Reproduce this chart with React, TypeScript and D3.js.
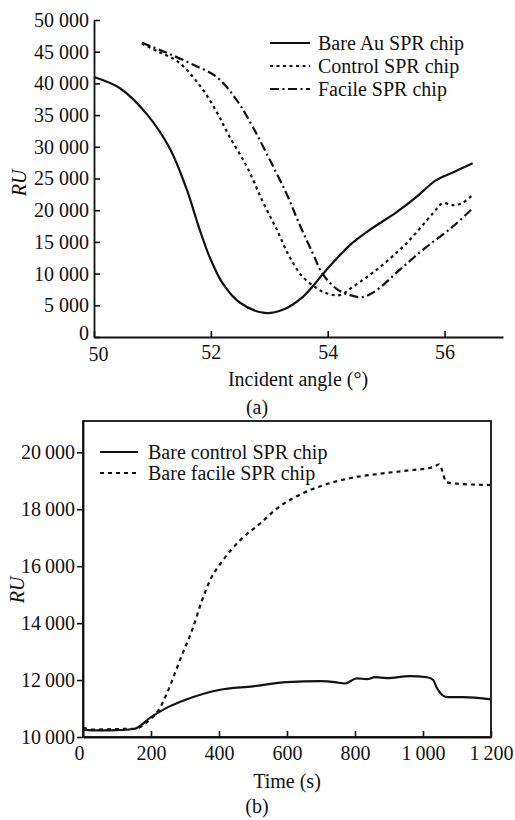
import React, { useEffect, useRef } from 'react';
import * as d3 from 'd3';

// (a) RU vs incident angle
const bareAuAngle = [50, 50.45, 50.9, 51.3, 51.59, 51.81, 51.98, 52.2, 52.5, 52.92, 53.23, 53.57, 53.98, 54.38, 54.72, 55.18, 55.52, 55.85, 56.15, 56.48];
const bareAuRU = [41000, 39200, 35200, 29700, 23200, 16900, 12600, 8500, 5400, 3800, 4300, 6300, 10600, 14500, 16900, 19700, 22100, 24700, 26000, 27400];

const controlAngle = [50.82, 51.1, 51.44, 51.81, 52.1, 52.32, 52.62, 52.88, 53.13, 53.35, 53.57, 53.81, 53.98, 54.2, 54.43, 54.89, 55.35, 55.8, 55.97, 56.14, 56.3, 56.48];
const controlRU = [46300, 45000, 43400, 39700, 35500, 31600, 26800, 21500, 16900, 12600, 9500, 7700, 6900, 6600, 7900, 11000, 14800, 19500, 21100, 20800, 21100, 22400];

const facileAngle = [50.82, 51.2, 51.64, 52.1, 52.44, 52.72, 53.0, 53.3, 53.52, 53.74, 53.91, 54.15, 54.38, 54.6, 54.84, 55.23, 55.69, 56.14, 56.48];
const facileRU = [46400, 45000, 43200, 41000, 37400, 33100, 28100, 22500, 17700, 13300, 10000, 7600, 6600, 6300, 7400, 10600, 14200, 17400, 20300];

const angleTicks = [50, 52, 54, 56];
const ruTicksA = [0, 5000, 10000, 15000, 20000, 25000, 30000, 35000, 40000, 45000, 50000];
const legendA = ['Bare Au SPR chip', 'Control SPR chip', 'Facile SPR chip'];

// (b) RU vs time
const controlTime = [0, 50, 100, 150, 200, 250, 300, 400, 500, 600, 700, 740, 771, 805, 835, 859, 894, 962, 1012, 1030, 1041, 1071, 1118, 1200];
const controlTimeRU = [10250, 10230, 10240, 10280, 10700, 11050, 11300, 11650, 11780, 11930, 11960, 11930, 11880, 12060, 12030, 12100, 12070, 12140, 12100, 12000, 11720, 11400, 11400, 11320];

const facileTime = [0, 30, 100, 150, 200, 220, 247, 285, 324, 350, 374, 412, 462, 521, 571, 618, 706, 785, 882, 962, 1030, 1048, 1058, 1068, 1100, 1200];
const facileTimeRU = [10320, 10260, 10280, 10290, 10650, 10900, 11540, 12700, 13860, 14800, 15510, 16210, 16910, 17500, 18030, 18390, 18840, 19090, 19260, 19370, 19480, 19580, 19300, 18950, 18900, 18850];

const timeTicks = [0, 200, 400, 600, 800, 1000, 1200];
const ruTicksB = [10000, 12000, 14000, 16000, 18000, 20000];
const legendB = ['Bare control SPR chip', 'Bare facile SPR chip'];

const FONT = 'Times New Roman, Liberation Serif, serif';
const solid = 'none';
const dotted = '3,3.5';
const dashDot = '9,3.5,2,3.5';
const dottedB = '4,4';

const App = () => {
    const svgRef = useRef<SVGSVGElement>(null);

    useEffect(() => {
        const svg = d3.select(svgRef.current);
        svg.selectAll('*').remove();

        const fmtSpace = (d: number) => d3.format(',')(d).replace(',', ' ');
        const fmtThin = (d: number) => d3.format(',')(d).replace(',', '\u2009');

        const styleAxis = (g: any) => {
            g.attr('font-size', 20).attr('font-family', FONT);
            g.selectAll('path').attr('stroke', '#111').attr('stroke-width', 1.8);
            g.selectAll('line').attr('stroke', '#111').attr('stroke-width', 1.6);
            g.selectAll('text').attr('fill', '#111');
        };

        // ---------- chart (a) ----------
        const xa = d3.scaleLinear().domain([50, 57]).range([94, 503]);
        const ya = d3.scaleLinear().domain([0, 50000]).range([337, 20]);

        const xAxisA = svg.append('g')
            .attr('transform', 'translate(0,337)')
            .call(d3.axisBottom(xa).tickValues(angleTicks).tickSizeInner(-6).tickSizeOuter(0).tickPadding(8).tickFormat(d3.format('d')))
            .call(styleAxis);
        // the "50" sits a little right of the corner, clear of the "0"
        xAxisA.selectAll('text').filter((d: any) => d === 50).attr('dx', 4).attr('y', 10);

        const yAxisA = svg.append('g')
            .attr('transform', 'translate(94,0)')
            .call(d3.axisLeft(ya).tickValues(ruTicksA).tickSizeInner(-6).tickSizeOuter(0).tickPadding(5).tickFormat((d: any) => fmtSpace(d)))
            .call(styleAxis);
        yAxisA.selectAll('text').filter((d: any) => d === 0).attr('dy', '0.1em');

        const lineA = (xs: number[], ys: number[]) =>
            d3.line<number>().x((_, i) => xa(xs[i])).y((d) => ya(d)).curve(d3.curveCatmullRom.alpha(0.5))(ys);

        const seriesA = [
            {x: bareAuAngle, y: bareAuRU, dash: solid},
            {x: controlAngle, y: controlRU, dash: dotted},
            {x: facileAngle, y: facileRU, dash: dashDot},
        ];
        seriesA.forEach((s) => {
            svg.append('path')
                .attr('d', lineA(s.x, s.y))
                .attr('fill', 'none')
                .attr('stroke', '#111')
                .attr('stroke-width', 2.2)
                .attr('stroke-dasharray', s.dash);
        });

        // legend (a)
        legendA.forEach((label, i) => {
            const y = 43 + i * 23;
            svg.append('line')
                .attr('x1', 270).attr('x2', 310).attr('y1', y).attr('y2', y)
                .attr('stroke', '#111').attr('stroke-width', 2.2)
                .attr('stroke-dasharray', seriesA[i].dash);
            svg.append('text')
                .attr('x', 318).attr('y', y + 7)
                .attr('font-family', FONT).attr('font-size', 20).attr('fill', '#111')
                .text(label);
        });

        svg.append('text')
            .attr('x', 298).attr('y', 386)
            .attr('text-anchor', 'middle')
            .attr('font-family', FONT).attr('font-size', 20).attr('fill', '#111')
            .text('Incident angle (°)');
        svg.append('text')
            .attr('transform', 'translate(26,183) rotate(-90)')
            .attr('text-anchor', 'middle')
            .attr('font-family', FONT).attr('font-size', 20).attr('font-style', 'italic').attr('fill', '#111')
            .text('RU');
        svg.append('text')
            .attr('x', 257).attr('y', 414)
            .attr('text-anchor', 'middle')
            .attr('font-family', FONT).attr('font-size', 20).attr('fill', '#111')
            .text('(a)');

        // ---------- chart (b) ----------
        const xb = d3.scaleLinear().domain([0, 1200]).range([83, 491]);
        const yb = d3.scaleLinear().domain([10000, 21100]).range([737, 421]);

        svg.append('rect')
            .attr('x', 83).attr('y', 421).attr('width', 408).attr('height', 316)
            .attr('fill', 'none').attr('stroke', '#111').attr('stroke-width', 1.8);

        const xAxisB = svg.append('g')
            .attr('transform', 'translate(0,737)')
            .call(d3.axisBottom(xb).tickValues(timeTicks).tickSizeInner(-6).tickSizeOuter(0).tickPadding(9).tickFormat((d: any) => fmtThin(d)))
            .call(styleAxis);
        xAxisB.selectAll('text').filter((d: any) => d === 0).attr('dx', -4);

        svg.append('g')
            .attr('transform', 'translate(83,0)')
            .call(d3.axisLeft(yb).tickValues(ruTicksB).tickSizeInner(6).tickSizeOuter(0).tickPadding(2).tickFormat((d: any) => fmtThin(d)))
            .call(styleAxis);

        const lineB = (xs: number[], ys: number[]) =>
            d3.line<number>().x((_, i) => xb(xs[i])).y((d) => yb(d)).curve(d3.curveMonotoneX)(ys);

        const seriesB = [
            {x: controlTime, y: controlTimeRU, dash: solid},
            {x: facileTime, y: facileTimeRU, dash: dottedB},
        ];
        seriesB.forEach((s) => {
            svg.append('path')
                .attr('d', lineB(s.x, s.y))
                .attr('fill', 'none')
                .attr('stroke', '#111')
                .attr('stroke-width', 2.2)
                .attr('stroke-dasharray', s.dash);
        });

        legendB.forEach((label, i) => {
            const y = 452 + i * 21;
            svg.append('line')
                .attr('x1', 100).attr('x2', 138).attr('y1', y).attr('y2', y)
                .attr('stroke', '#111').attr('stroke-width', 2.2)
                .attr('stroke-dasharray', seriesB[i].dash);
            svg.append('text')
                .attr('x', 148).attr('y', y + 7)
                .attr('font-family', FONT).attr('font-size', 20).attr('fill', '#111')
                .text(label);
        });

        svg.append('text')
            .attr('x', 287).attr('y', 788)
            .attr('text-anchor', 'middle')
            .attr('font-family', FONT).attr('font-size', 20).attr('fill', '#111')
            .text('Time (s)');
        svg.append('text')
            .attr('transform', 'translate(24,590) rotate(-90)')
            .attr('text-anchor', 'middle')
            .attr('font-family', FONT).attr('font-size', 20).attr('font-style', 'italic').attr('fill', '#111')
            .text('RU');
        svg.append('text')
            .attr('x', 257).attr('y', 813)
            .attr('text-anchor', 'middle')
            .attr('font-family', FONT).attr('font-size', 20).attr('fill', '#111')
            .text('(b)');
    }, []);

    return (
        <svg ref={svgRef} width={515} height={820}
             style={{position: 'absolute', left: 0, top: 0, background: '#fff'}} />
    );
};

export default App;
